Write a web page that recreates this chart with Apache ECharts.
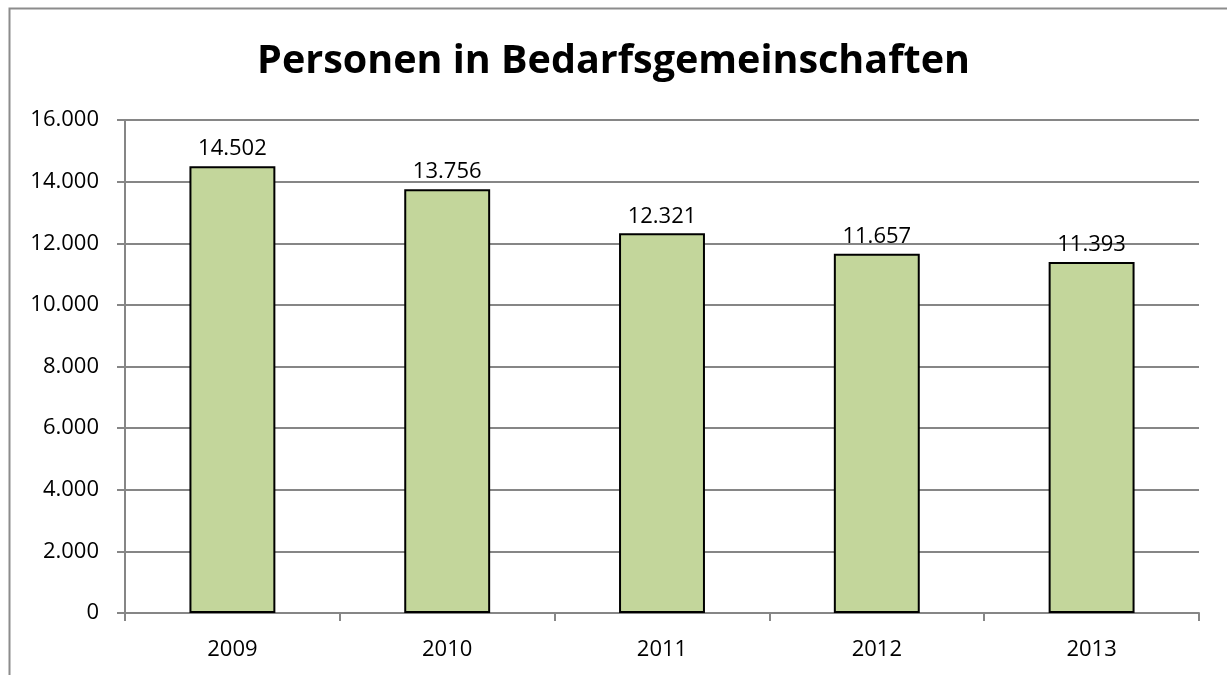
<!DOCTYPE html>
<html>
<head>
<meta charset="utf-8">
<script src="https://cdn.jsdelivr.net/npm/echarts@6/dist/echarts.min.js"></script>
<style>
  html, body { margin: 0; padding: 0; background: #fff; }
  #main { width: 1227px; height: 675px; }
</style>
</head>
<body>
<div id="main"></div>
<script>
// Jahre und Werte
const years = ['2009', '2010', '2011', '2012', '2013'];
const persons = [14502, 13756, 12321, 11657, 11393];

// Tausenderpunkt wie im Original
const fmt = v => String(v).replace(/\B(?=(\d{3})+(?!\d))/g, '.');

const chart = echarts.init(document.getElementById('main'));
const font = '"Open Sans", sans-serif';

const option = {
  animation: false,
  graphic: [{
    type: 'rect',
    shape: { x: 9.5, y: 8.5, width: 1260, height: 700 },
    style: { fill: 'none', stroke: '#8c8c8c', lineWidth: 2 },
    silent: true
  }],
  title: {
    text: 'Personen in Bedarfsgemeinschaften',
    left: 'center',
    top: 37,
    textStyle: { fontFamily: font, fontSize: 39.5, fontWeight: 'bold', color: '#000' }
  },
  grid: { left: 125, right: 28, top: 120, bottom: 62 },
  xAxis: {
    type: 'category',
    data: years,
    axisLine: { lineStyle: { color: '#868686', width: 2 } },
    axisTick: { show: true, length: 8, lineStyle: { color: '#868686', width: 2 } },
    axisLabel: { fontFamily: font, fontSize: 22, color: '#000', margin: 26 }
  },
  yAxis: {
    type: 'value',
    min: 0,
    max: 16000,
    interval: 2000,
    axisLine: { show: true, lineStyle: { color: '#868686', width: 2 } },
    axisTick: { show: true, length: 8, lineStyle: { color: '#868686', width: 2 } },
    splitLine: { lineStyle: { color: '#868686', width: 2 } },
    axisLabel: { fontFamily: font, fontSize: 22, color: '#000', margin: 26, formatter: fmt }
  },
  series: [{
    type: 'bar',
    data: persons,
    barWidth: '40%',
    itemStyle: { color: '#C3D69B', borderColor: '#000', borderWidth: 2 },
    label: {
      show: true,
      position: 'top',
      distance: 6,
      fontFamily: font,
      fontSize: 22,
      color: '#000',
      formatter: p => fmt(p.value)
    }
  }]
};

chart.setOption(option);
</script>
</body>
</html>
